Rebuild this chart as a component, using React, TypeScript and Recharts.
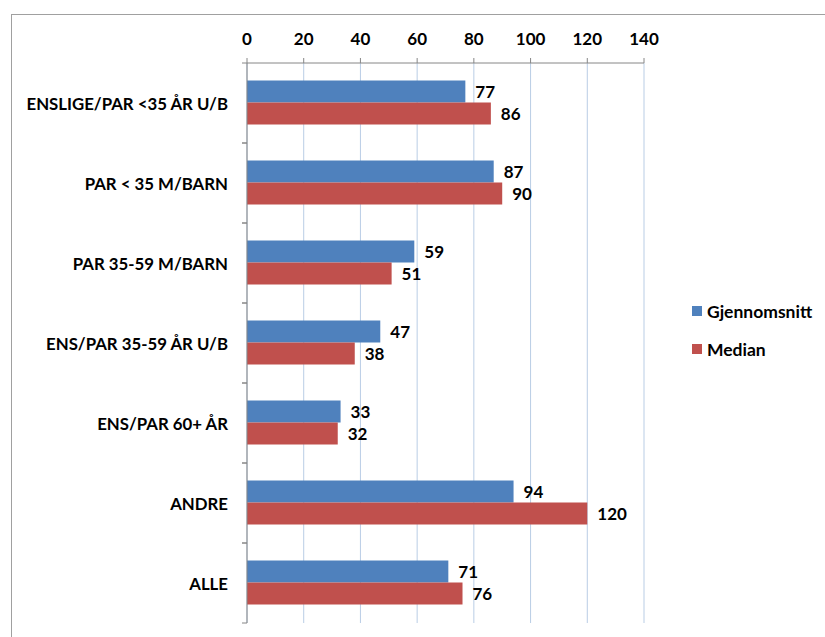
import { BarChart, Bar, XAxis, YAxis, CartesianGrid, LabelList } from 'recharts'

const categories = [
  'ENSLIGE/PAR <35 ÅR U/B',
  'PAR < 35 M/BARN',
  'PAR 35-59 M/BARN',
  'ENS/PAR 35-59 ÅR U/B',
  'ENS/PAR 60+ ÅR',
  'ANDRE',
  'ALLE',
]
const gjennomsnitt = [77, 87, 59, 47, 33, 94, 71]
const median = [86, 90, 51, 38, 32, 120, 76]
const xTicks = [0, 20, 40, 60, 80, 100, 120, 140]

const data = categories.map((name, i) => ({
  name,
  gjennomsnitt: gjennomsnitt[i],
  median: median[i],
}))

const FONT = 'Lato, sans-serif'
const PLOT_H = 560
const HALF_BAND = PLOT_H / categories.length / 2

function CategoryTick(props: any) {
  const { x, y, payload } = props
  return (
    <g>
      <line x1={x - 5} x2={x} y1={y - HALF_BAND} y2={y - HALF_BAND} stroke="#868686" />
      <line x1={x - 5} x2={x} y1={y + HALF_BAND} y2={y + HALF_BAND} stroke="#868686" />
      <text
        x={x - 19}
        y={y}
        textAnchor="end"
        dominantBaseline="central"
        fontFamily={FONT}
        fontWeight={700}
        fontSize={16.8}
        fill="#000"
      >
        {payload.value}
      </text>
    </g>
  )
}

function LegendBox() {
  const items = [
    { label: 'Gjennomsnitt', color: '#4f81bd' },
    { label: 'Median', color: '#c0504d' },
  ]
  return (
    <div
      style={{
        position: 'absolute',
        left: 692,
        top: 292,
        fontFamily: FONT,
        fontWeight: 700,
        fontSize: 17.5,
        color: '#000',
      }}
    >
      {items.map((it) => (
        <div key={it.label} style={{ display: 'flex', alignItems: 'center', height: 38 }}>
          <span style={{ width: 10, height: 10, background: it.color, marginRight: 5 }} />
          {it.label}
        </div>
      ))}
    </div>
  )
}

const labelStyle = { fontFamily: FONT, fontWeight: 700, fontSize: 17, fill: '#000' }

export default function App() {
  return (
    <div style={{ position: 'absolute', left: 0, top: 0, width: 825, height: 637, background: '#fff', overflow: 'hidden' }}>
      <div
        style={{
          position: 'absolute',
          left: 11,
          top: 14,
          width: 830,
          height: 640,
          border: '1px solid #a0a0a0',
          pointerEvents: 'none',
        }}
      />
      <BarChart
        width={825}
        height={637}
        data={data}
        layout="vertical"
        margin={{ top: 23, right: 181, bottom: 14, left: 11 }}
        barCategoryGap="22%"
        barGap={0}
      >
        <CartesianGrid horizontal={false} stroke="#b9cde5" />
        <XAxis
          type="number"
          orientation="top"
          domain={[0, 140]}
          ticks={xTicks}
          height={40}
          stroke="#868686"
          tickSize={5}
          tickMargin={13}
          tick={{ fontFamily: FONT, fontWeight: 700, fontSize: 17, fill: '#000' }}
        />
        <YAxis
          type="category"
          dataKey="name"
          width={236}
          stroke="#868686"
          tickLine={false}
          tickSize={0}
          tickMargin={0}
          tick={<CategoryTick />}
          interval={0}
        />
        <Bar dataKey="gjennomsnitt" name="Gjennomsnitt" fill="#4f81bd" isAnimationActive={false}>
          <LabelList dataKey="gjennomsnitt" position="right" offset={10} style={labelStyle} />
        </Bar>
        <Bar dataKey="median" name="Median" fill="#c0504d" isAnimationActive={false}>
          <LabelList dataKey="median" position="right" offset={10} style={labelStyle} />
        </Bar>
      </BarChart>
      <LegendBox />
    </div>
  )
}
